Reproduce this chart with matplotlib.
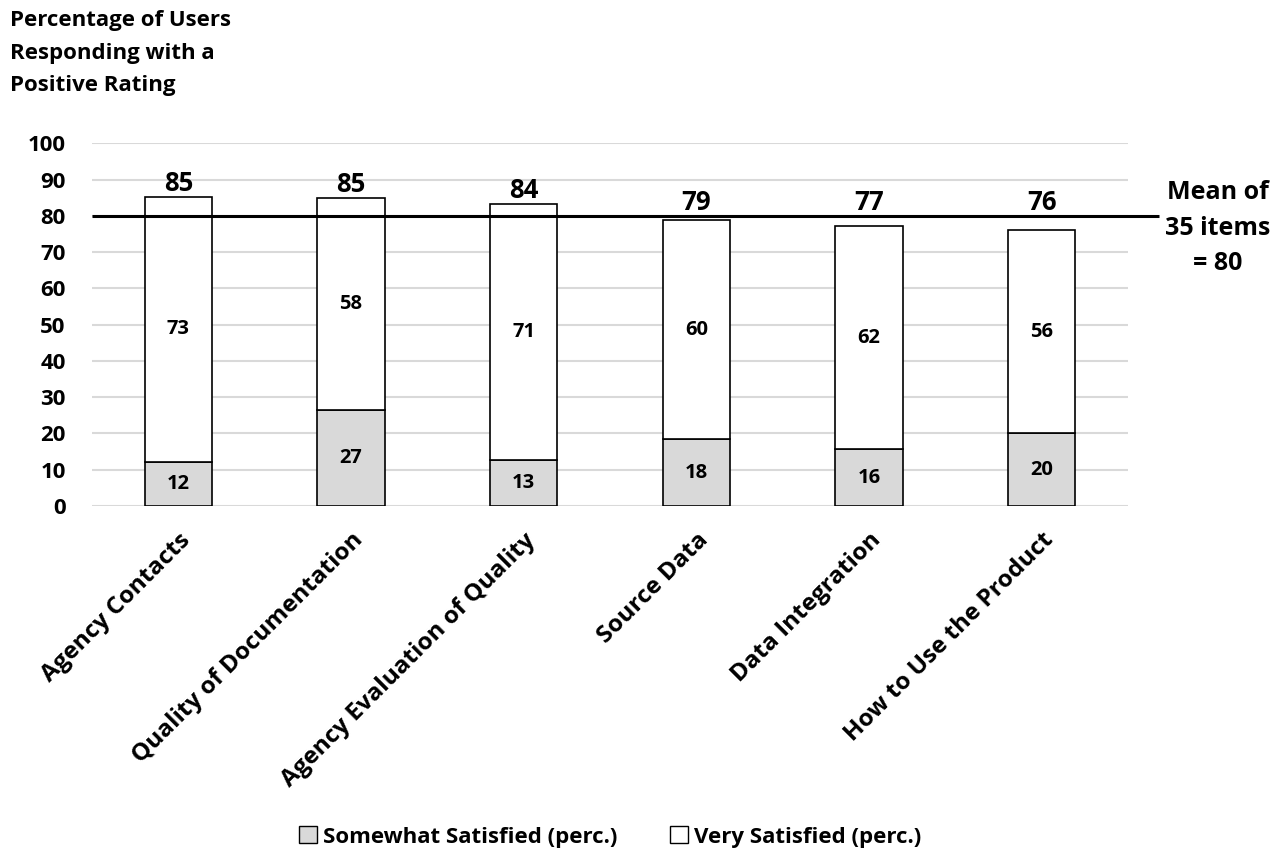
import numpy as np
import matplotlib.pyplot as plt
from matplotlib.patches import Patch

plt.rcParams['font.family'] = ['Open Sans', 'DejaVu Sans']
plt.rcParams['font.weight'] = 'bold'

categories = ["Agency Contacts", "Quality of Documentation", "Agency Evaluation of Quality",
              "Source Data", "Data Integration", "How to Use the Product"]
somewhat = [12.1, 26.6, 12.6, 18.4, 15.6, 20.1]
very = [73.2, 58.2, 70.8, 60.4, 61.6, 55.9]
somewhat_labels = [12, 27, 13, 18, 16, 20]
very_labels = [73, 58, 71, 60, 62, 56]
total_labels = [85, 85, 84, 79, 77, 76]
mean_value = 80
yticks = list(range(0, 101, 10))
title_lines = ["Percentage of Users", "Responding with a", "Positive Rating"]
mean_lines = ["Mean of", "35 items", "= 80"]

W, H = 1285, 856
fig = plt.figure(figsize=(W / 100, H / 100), dpi=100)
ax = fig.add_axes([92 / W, 1 - 506 / H, 1036 / W, 362.7 / H])

x = np.arange(len(categories))
gray = '#d9d9d9'
ax.bar(x, somewhat, width=0.39, color=gray, edgecolor='black', linewidth=1.2, zorder=3)
ax.bar(x, very, width=0.39, bottom=somewhat, color='white', edgecolor='black',
       linewidth=1.2, zorder=3)

# mean line runs a bit past the plot area
ax.plot([-0.5, 5.68], [mean_value, mean_value], color='black', linewidth=2.2,
        zorder=5, clip_on=False, solid_capstyle='butt')

for i in range(len(categories)):
    ax.text(x[i], somewhat[i] / 2, str(somewhat_labels[i]), ha='center', va='center',
            fontsize=14.5, fontweight='bold', zorder=6)
    ax.text(x[i], somewhat[i] + very[i] / 2, str(very_labels[i]), ha='center', va='center',
            fontsize=14.5, fontweight='bold', zorder=6)
    top = max(somewhat[i] + very[i], mean_value)
    ax.annotate(str(total_labels[i]), (x[i], top), xytext=(0, 0), textcoords='offset points',
                ha='center', va='bottom', fontsize=18.5, fontweight='bold', zorder=6)

ax.set_xlim(-0.5, len(categories) - 0.5)
ax.set_ylim(0, 100)
ax.set_yticks(yticks)
ax.set_yticklabels([str(v) for v in yticks], fontsize=16, fontweight='bold')
ax.set_xticks(x)
ax.set_xticklabels(categories, rotation=45, ha='right', rotation_mode='anchor',
                   fontsize=17.5, fontweight='bold')
ax.tick_params(axis='y', length=0, pad=19)
ax.tick_params(axis='x', length=0, pad=16)
ax.yaxis.grid(True, color=gray, linewidth=1.5)
ax.set_axisbelow(True)
for s in ax.spines.values():
    s.set_visible(False)

for line, y in zip(title_lines, [26, 58.5, 91]):
    fig.text(10 / W, 1 - y / H, line, ha='left', va='baseline', fontsize=16,
             fontweight='bold')
for line, y in zip(mean_lines, [199, 235, 270]):
    fig.text(1218 / W, 1 - y / H, line, ha='center', va='baseline', fontsize=18,
             fontweight='bold')

handles = [Patch(facecolor=gray, edgecolor='black', linewidth=1.0),
           Patch(facecolor='white', edgecolor='black', linewidth=1.0)]
fig.legend(handles, ["Somewhat Satisfied (perc.)", "Very Satisfied (perc.)"],
           loc='center', bbox_to_anchor=(610 / W, 1 - 837 / H), ncol=2, frameon=False,
           prop={'size': 16, 'weight': 'bold'}, handlelength=0.8, handleheight=0.8,
           handletextpad=0.25, columnspacing=2.4)

fig.savefig('out.png', dpi=100)
